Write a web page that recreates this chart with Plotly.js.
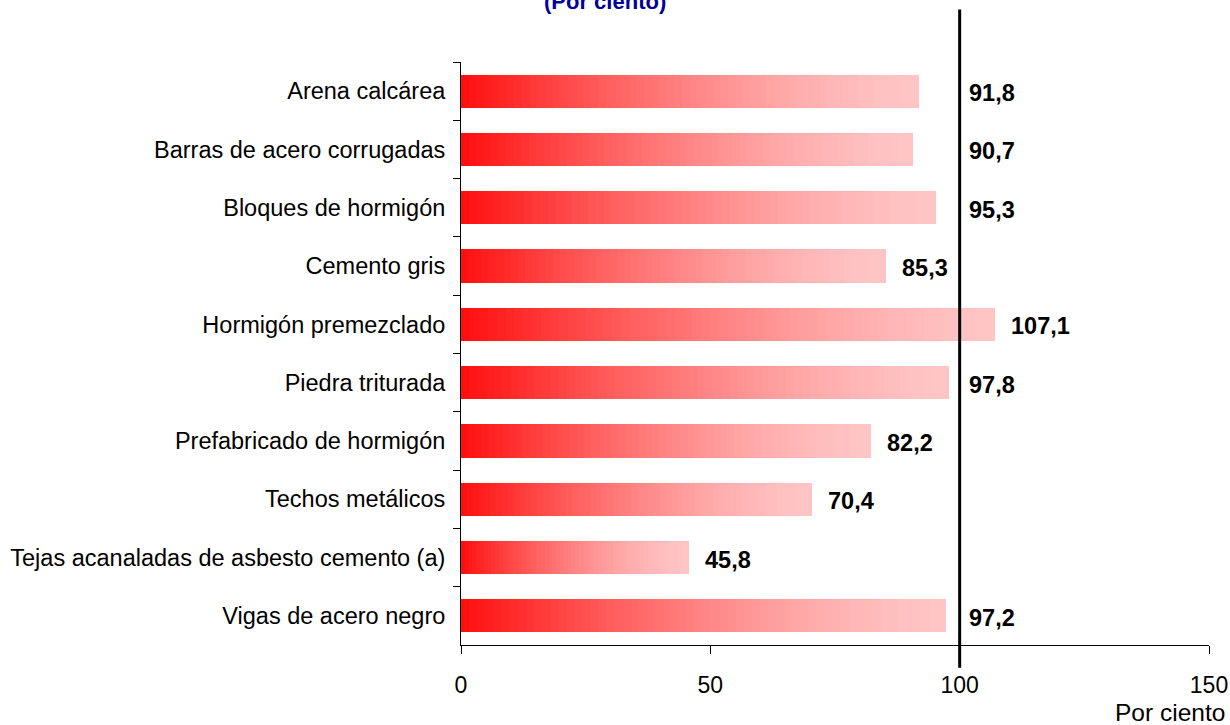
<!DOCTYPE html>
<html>
<head>
<meta charset="utf-8">
<script src="https://cdn.plot.ly/plotly-3.0.1.min.js"></script>
<style>html,body{margin:0;padding:0;background:#fff;}#chart{width:1230px;height:725px;}</style>
</head>
<body>
<div id="chart"></div>
<script>
const categories = [
  "Arena calcárea",
  "Barras de acero corrugadas",
  "Bloques de hormigón",
  "Cemento gris",
  "Hormigón premezclado",
  "Piedra triturada",
  "Prefabricado de hormigón",
  "Techos metálicos",
  "Tejas acanaladas de asbesto cemento (a)",
  "Vigas de acero negro"
];
const values = [91.8, 90.7, 95.3, 85.3, 107.1, 97.8, 82.2, 70.4, 45.8, 97.2];
const valueLabels = ["91,8", "90,7", "95,3", "85,3", "107,1", "97,8", "82,2", "70,4", "45,8", "97,2"];
const xTicks = [0, 50, 100, 150];
const referenceValue = 100;

const N = 60;
const c0 = [255, 16, 16], c1 = [255, 196, 196];
function colorAt(t) {
  const s = 1 - Math.pow(1 - t, 1.5);
  const r = Math.round(c0[0] + (c1[0] - c0[0]) * s);
  const g = Math.round(c0[1] + (c1[1] - c0[1]) * s);
  const b = Math.round(c0[2] + (c1[2] - c0[2]) * s);
  return `rgb(${r},${g},${b})`;
}
const traces = [];
for (let k = 0; k < N; k++) {
  traces.push({
    type: 'bar', orientation: 'h',
    y: categories, x: values.map(v => v / N),
    marker: {color: colorAt(k / (N - 1)), line: {width: 0}},
    hoverinfo: 'skip', showlegend: false
  });
}

const FONT = 'Liberation Sans, Arial, sans-serif';
const annotations = values.map((v, i) => {
  let lx = v + 2.8;
  if (v > 86 && v < 100) lx = Math.max(lx, referenceValue + 1.4);
  return {
    x: lx, y: categories[i], xref: 'x', yref: 'y', xanchor: 'left', yanchor: 'middle',
    yshift: -2,
    text: valueLabels[i], showarrow: false,
    font: {family: FONT, size: 23.5, color: '#000', weight: 'bold'}
  };
});
annotations.push({
  x: 1, xref: 'paper', y: 0, yref: 'paper', yshift: -52,
  xanchor: 'right', yanchor: 'top', text: 'Por ciento', showarrow: false,
  xshift: 18,
  font: {family: FONT, size: 24.5, color: '#000'}
});
annotations.push({
  x: 0.193, xref: 'paper', y: 1, yref: 'paper', yshift: 46,
  xanchor: 'center', yanchor: 'bottom', text: '(Por ciento)', showarrow: false,
  font: {family: FONT, size: 22, color: '#000099', weight: 'bold'}
});

const layout = {
  width: 1230, height: 725,
  margin: {l: 461, r: 21, t: 62, b: 80},
  paper_bgcolor: '#fff', plot_bgcolor: '#fff',
  barmode: 'stack', bargap: 0.43,
  xaxis: {
    range: [0, 150], tickvals: xTicks, ticktext: xTicks.map(String),
    showgrid: false, zeroline: false, showline: true, linecolor: '#000', linewidth: 1,
    ticks: 'outside', ticklen: 8, tickcolor: '#000', ticklabelstandoff: 11,
    tickfont: {family: FONT, size: 23, color: '#000'},
    fixedrange: true
  },
  yaxis: {
    type: 'category', autorange: 'reversed', tickson: 'boundaries',
    showgrid: false, zeroline: false, showline: true, linecolor: '#000', linewidth: 1,
    ticks: 'outside', ticklen: 7, tickcolor: '#000', ticklabelstandoff: 10,
    tickfont: {family: FONT, size: 23.5, color: '#000'},
    fixedrange: true
  },
  shapes: [{
    type: 'line', xref: 'x', yref: 'paper', x0: referenceValue, x1: referenceValue,
    y0: -0.039, y1: 1.09, line: {color: '#000', width: 3}
  }],
  annotations: annotations
};
Plotly.newPlot('chart', traces, layout, {displayModeBar: false, staticPlot: true});
</script>
</body>
</html>
